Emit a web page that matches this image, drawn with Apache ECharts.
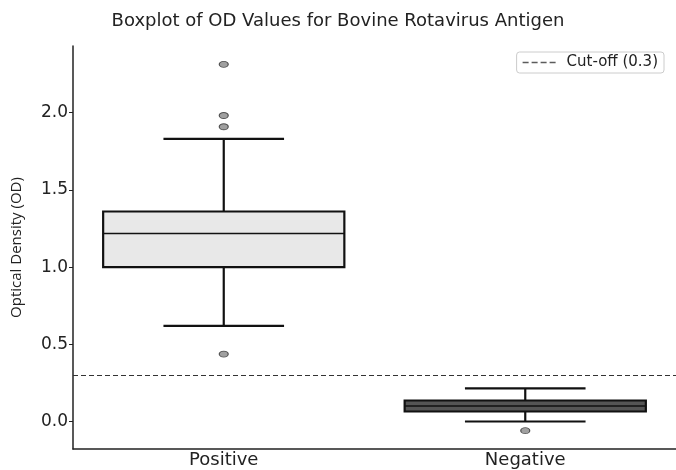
<!DOCTYPE html>
<html>
<head>
<meta charset="utf-8">
<script src="https://cdn.jsdelivr.net/npm/echarts@6/dist/echarts.min.js"></script>
<style>
  html, body { margin: 0; padding: 0; background: #fff; }
  #chart { width: 676px; height: 470px; }
</style>
</head>
<body>
<div id="chart"></div>
<script>
// box stats
const categories = ['Positive', 'Negative']
const lowerWhisker = [0.62, 0.0]
const q1 = [1.0, 0.065]
const median = [1.217, 0.10]
const q3 = [1.36, 0.136]
const upperWhisker = [1.831, 0.214]
const boxFill = ['#e8e8e8', '#555555']
// outliers as [category index, value]
const outliers = [[0, 2.313], [0, 1.982], [0, 1.909], [0, 0.437], [1, -0.059]]
const cutoff = 0.3
const yTicks = [0, 0.5, 1.0, 1.5, 2.0]

const boxData = categories.map((c, i) => [i, lowerWhisker[i], q1[i], median[i], q3[i], upperWhisker[i]])

function renderBox(params, api) {
    const i = api.value(0)
    const band = api.size([1, 0])[0]
    const boxW = band * 0.8
    const capW = band * 0.4
    const pLo = api.coord([i, api.value(1)])
    const pQ1 = api.coord([i, api.value(2)])
    const pMed = api.coord([i, api.value(3)])
    const pQ3 = api.coord([i, api.value(4)])
    const pHi = api.coord([i, api.value(5)])
    const cx = pLo[0]
    const stroke = { stroke: '#111', lineWidth: 2.2 }
    return {
        type: 'group',
        children: [
            { type: 'line', shape: { x1: cx, y1: pLo[1], x2: cx, y2: pQ1[1] }, style: stroke },
            { type: 'line', shape: { x1: cx, y1: pQ3[1], x2: cx, y2: pHi[1] }, style: stroke },
            { type: 'line', shape: { x1: cx - capW / 2, y1: pLo[1], x2: cx + capW / 2, y2: pLo[1] }, style: stroke },
            { type: 'line', shape: { x1: cx - capW / 2, y1: pHi[1], x2: cx + capW / 2, y2: pHi[1] }, style: stroke },
            {
                type: 'rect',
                shape: { x: cx - boxW / 2, y: pQ3[1], width: boxW, height: pQ1[1] - pQ3[1] },
                style: { fill: boxFill[i], stroke: '#111', lineWidth: 2.2 }
            },
            { type: 'line', shape: { x1: cx - boxW / 2, y1: pMed[1], x2: cx + boxW / 2, y2: pMed[1] }, style: { stroke: '#111', lineWidth: 1.5 } }
        ]
    }
}

const chart = echarts.init(document.getElementById('chart'))
chart.setOption({
    animation: false,
    backgroundColor: '#fff',
    title: {
        text: 'Boxplot of OD Values for Bovine Rotavirus Antigen',
        left: 'center',
        top: 7,
        textStyle: { fontFamily: 'DejaVu Sans', fontSize: 18, fontWeight: 'normal', color: '#222' }
    },
    legend: {
        data: [{ name: 'Cut-off (0.3)', icon: 'path://M0,0h6v1.5h-6z M9,0h6v1.5h-6z M18,0h6v1.5h-6z M27,0h6v1.5h-6z' }],
        right: 12,
        top: 52,
        padding: [3, 6],
        itemWidth: 33,
        itemHeight: 1.5,
        itemGap: 10,
        borderColor: '#cccccc',
        borderWidth: 1,
        borderRadius: 3,
        textStyle: { fontFamily: 'DejaVu Sans', fontSize: 15, color: '#222', padding: [0, 0, 0, 6] }
    },
    grid: { left: 73, right: 0, top: 46, bottom: 21 },
    xAxis: {
        type: 'category',
        data: categories,
        axisLine: { onZero: false, lineStyle: { color: '#222', width: 1.5 } },
        axisTick: { alignWithLabel: true, length: 4, lineStyle: { color: '#222' } },
        axisLabel: { fontFamily: 'DejaVu Sans', fontSize: 18, color: '#222', margin: 2 }
    },
    yAxis: {
        type: 'value',
        min: -0.178,
        max: 2.432,
        name: 'Optical Density (OD)',
        nameLocation: 'middle',
        nameGap: 49,
        nameTextStyle: { fontFamily: 'Open Sans', fontSize: 15, color: '#222' },
        splitLine: { show: false },
        axisLine: { show: true, lineStyle: { color: '#222', width: 1.5 } },
        axisTick: { show: true, length: 4, customValues: yTicks, lineStyle: { color: '#222' } },
        axisLabel: {
            fontFamily: 'DejaVu Sans', fontSize: 17, color: '#222', margin: 5,
            customValues: yTicks,
            formatter: v => v.toFixed(1)
        }
    },
    series: [
        {
            name: 'box',
            type: 'custom',
            renderItem: renderBox,
            encode: { x: 0, y: [1, 2, 3, 4, 5] },
            data: boxData,
            z: 3
        },
        {
            name: 'outliers',
            type: 'scatter',
            symbol: 'circle',
            symbolSize: [9, 6],
            itemStyle: { color: '#888', borderColor: '#333', borderWidth: 1 },
            data: outliers,
            z: 4
        },
        {
            name: 'Cut-off (0.3)',
            type: 'scatter',
            data: [],
            itemStyle: { color: '#333' },
            markLine: {
                silent: true,
                symbol: 'none',
                label: { show: false },
                lineStyle: { type: [5, 3], color: '#333', width: 1.2 },
                data: [{ yAxis: cutoff }]
            }
        }
    ]
})
</script>
</body>
</html>
